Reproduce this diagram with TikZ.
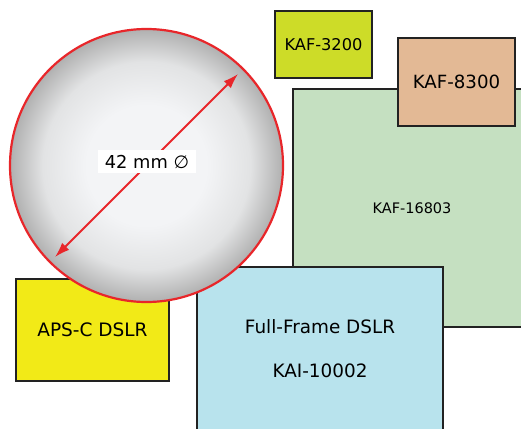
\documentclass[tikz,border=0pt]{standalone}
\usepackage{fontspec}
\setmainfont{DejaVu Sans}
\usetikzlibrary{arrows.meta,calc}

\definecolor{boxline}{HTML}{222222}
\definecolor{lensred}{HTML}{E8262A}
\definecolor{lenslight}{HTML}{F3F4F6}
\definecolor{lensmid}{HTML}{E2E3E4}
\definecolor{lensdark}{HTML}{B0B0B0}
\definecolor{kafgreen}{HTML}{C5E0C1}
\definecolor{kaftan}{HTML}{E3B995}
\definecolor{kaflime}{HTML}{CDDC28}
\definecolor{apsyellow}{HTML}{F2EA17}
\definecolor{ffblue}{HTML}{B8E3ED}

\pgfdeclareradialshading{lens}{\pgfpoint{0bp}{0bp}}{color(0bp)=(lenslight); color(11bp)=(lenslight); color(19bp)=(lensmid); color(25bp)=(lensdark); color(50bp)=(lensdark)}

\tikzset{sensor/.style={rectangle,draw=boxline,line width=1.4pt,inner sep=0pt}}

\begin{document}
\begin{tikzpicture}[x=1pt,y=-1pt]
\useasboundingbox (0,0) rectangle (521,428);
\clip (0,0) rectangle (521,428);

\node (KAF16803) at (412,208) [sensor,fill=kafgreen,minimum width=238,minimum height=238,font=\fontsize{14.5}{17}\selectfont] {KAF-16803};

\node (KAF8300) at (456.5,82) [sensor,fill=kaftan,minimum width=117,minimum height=88,font=\fontsize{18.2}{22}\selectfont] {KAF-8300};

\node (KAF3200) at (323.5,44.5) [sensor,fill=kaflime,minimum width=97,minimum height=67,font=\fontsize{16.2}{20}\selectfont] {KAF-3200};

\node (APSC) at (92.5,330) [sensor,fill=apsyellow,minimum width=153,minimum height=102,font=\fontsize{18.5}{22}\selectfont] {APS-C DSLR};

\node (FullFrame) at (320,349) [sensor,fill=ffblue,minimum width=246,minimum height=164,align=center,font=\fontsize{18.4}{44}\selectfont] {Full-Frame DSLR\\KAI-10002};

\node (Lens) at (146.5,165.5) [circle,draw=lensred,line width=2.2pt,shading=lens,minimum size=273,inner sep=0pt] {};

\coordinate (LensSW) at ($(Lens.center)+(-91.5,91.5)$);
\coordinate (LensNE) at ($(Lens.center)+(91.5,-91.5)$);
\draw[lensred,line width=1.8pt,{Latex[length=15pt,width=10pt]}-{Latex[length=15pt,width=10pt]}] (LensSW) -- (LensNE);

\node (Diameter) at (147,161.5) [rectangle,fill=white,minimum width=98,minimum height=23,inner sep=0pt,font=\fontsize{17.8}{20}\selectfont] {42 mm ∅};

\end{tikzpicture}
\end{document}
